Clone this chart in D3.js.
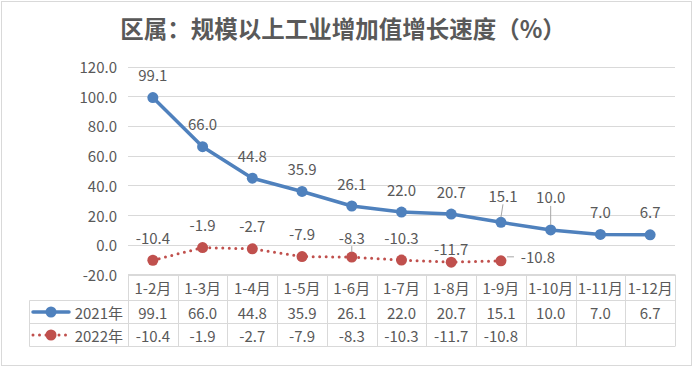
<!DOCTYPE html>
<html>
  <head>
    <meta charset="UTF-8">
    <title>区属：规模以上工业增加值增长速度</title>
    <script src="https://d3js.org/d3.v7.min.js"></script>
  </head>
  <style type="text/css">
    body { margin: 0px; padding: 0px; background: #fff; }
    text { font-family: "Noto Sans CJK SC", "Noto Sans", sans-serif; fill: #595959; }
  </style>
  <body>
    <div id="chart"></div>
    <script>
      const categories = ['1-2月', '1-3月', '1-4月', '1-5月', '1-6月', '1-7月', '1-8月', '1-9月', '1-10月', '1-11月', '1-12月'];
      const values2021 = [99.1, 66.0, 44.8, 35.9, 26.1, 22.0, 20.7, 15.1, 10.0, 7.0, 6.7];
      const values2022 = [-10.4, -1.9, -2.7, -7.9, -8.3, -10.3, -11.7, -10.8];
      const seriesNames = ['2021年', '2022年'];
      const yTicks = [-20, 0, 20, 40, 60, 80, 100, 120];

      const width = 694, height = 368;
      const plotLeft = 128, plotRight = 675;
      const colors = ['#4f81bd', '#c0504d'];
      const fs = 15;

      const svg = d3.select('#chart').append('svg')
        .attr('width', width)
        .attr('height', height);

      // outer frame
      svg.append('rect')
        .attr('x', 1.5).attr('y', 1.5)
        .attr('width', 690).attr('height', 364)
        .attr('fill', 'none').attr('stroke', '#d9d9d9');

      svg.append('text')
        .attr('x', 343).attr('y', 28)
        .attr('text-anchor', 'middle')
        .attr('dominant-baseline', 'central')
        .attr('font-size', 23.5)
        .attr('font-weight', 'bold')
        .text('区属：规模以上工业增加值增长速度（%）');

      const x = d3.scaleBand().domain(categories).range([plotLeft, plotRight]);
      const y = d3.scaleLinear().domain([-20, 120]).range([274.5, 66.5]);

      // gridlines
      svg.append('g').selectAll('line')
        .data(yTicks).enter().append('line')
        .attr('x1', plotLeft).attr('x2', plotRight)
        .attr('y1', d => Math.round(y(d)) + 0.5).attr('y2', d => Math.round(y(d)) + 0.5)
        .attr('stroke', '#d9d9d9');

      // y axis labels
      svg.append('g').selectAll('text')
        .data(yTicks).enter().append('text')
        .attr('x', 117).attr('y', d => y(d))
        .attr('text-anchor', 'end')
        .attr('dominant-baseline', 'central')
        .attr('font-size', fs)
        .text(d => d.toFixed(1));

      // data table
      const rowY = [274.5, 300.5, 323.5, 346.5];
      const legendLeft = 29.5;
      const table = svg.append('g').attr('stroke', '#d9d9d9');
      table.append('line').attr('x1', plotLeft).attr('x2', plotRight).attr('y1', rowY[0]).attr('y2', rowY[0]);
      rowY.slice(1).forEach(yy => {
        table.append('line').attr('x1', legendLeft).attr('x2', plotRight).attr('y1', yy).attr('y2', yy);
      });
      categories.forEach(c => {
        table.append('line').attr('x1', Math.round(x(c)) + 0.5).attr('x2', Math.round(x(c)) + 0.5)
          .attr('y1', rowY[0]).attr('y2', rowY[3]);
      });
      table.append('line').attr('x1', plotRight + 0.5).attr('x2', plotRight + 0.5).attr('y1', rowY[0]).attr('y2', rowY[3]);
      table.append('line').attr('x1', legendLeft).attr('x2', legendLeft).attr('y1', rowY[1]).attr('y2', rowY[3]);

      const cellText = (tx, ty, str) => svg.append('text')
        .attr('x', tx).attr('y', ty)
        .attr('text-anchor', 'middle')
        .attr('dominant-baseline', 'central')
        .attr('font-size', fs)
        .text(str);

      categories.forEach(c => cellText(x(c) + x.bandwidth() / 2, 287.5, c));
      values2021.forEach((v, i) => cellText(x(categories[i]) + x.bandwidth() / 2, 312, v.toFixed(1)));
      values2022.forEach((v, i) => cellText(x(categories[i]) + x.bandwidth() / 2, 335, v.toFixed(1)));

      // legend keys inside the table
      [values2021, values2022].forEach((_, si) => {
        const ly = si === 0 ? 312 : 335;
        const g = svg.append('g');
        g.append('line')
          .attr('x1', 33).attr('x2', 69).attr('y1', ly).attr('y2', ly)
          .attr('stroke', colors[si])
          .attr('stroke-width', si === 0 ? 3.5 : 3)
          .attr('stroke-dasharray', si === 0 ? null : '0 6.5')
          .attr('stroke-linecap', 'round');
        g.append('circle').attr('cx', 51).attr('cy', ly).attr('r', 5.5).attr('fill', colors[si]);
        g.append('text')
          .attr('x', 123).attr('y', ly)
          .attr('text-anchor', 'end')
          .attr('dominant-baseline', 'central')
          .attr('font-size', fs)
          .text(seriesNames[si]);
      });

      const cx = i => x(categories[i]) + x.bandwidth() / 2;
      const line = d3.line().x((d, i) => cx(i)).y(d => y(d));

      // 2021 series
      svg.append('path').datum(values2021)
        .attr('d', line).attr('fill', 'none')
        .attr('stroke', colors[0]).attr('stroke-width', 3.5)
        .attr('stroke-linejoin', 'round');
      svg.append('g').selectAll('circle')
        .data(values2021).enter().append('circle')
        .attr('cx', (d, i) => cx(i)).attr('cy', d => y(d))
        .attr('r', 5.5).attr('fill', colors[0]);

      // 2022 series
      svg.append('path').datum(values2022)
        .attr('d', line).attr('fill', 'none')
        .attr('stroke', colors[1]).attr('stroke-width', 3)
        .attr('stroke-dasharray', '0 6.5')
        .attr('stroke-linecap', 'round');
      svg.append('g').selectAll('circle')
        .data(values2022).enter().append('circle')
        .attr('cx', (d, i) => cx(i)).attr('cy', d => y(d))
        .attr('r', 5.5).attr('fill', colors[1]);

      // data labels: [dx, dy, leader]
      const off2021 = { 7: [2, -27, true], 8: [0, -33, true] };
      const off2022 = { 4: [0, -20, true], 6: [0, -14, false], 7: [37, -4, 'h'] };
      const addLabels = (vals, offs, defDy) => {
        vals.forEach((v, i) => {
          const o = offs[i] || [0, defDy, false];
          const px = cx(i), py = y(v);
          const lx = px + o[0], ly = py + o[1];
          if (o[2] === true) {
            svg.append('line')
              .attr('x1', lx).attr('y1', ly + 9).attr('x2', px).attr('y2', py - 5)
              .attr('stroke', '#a6a6a6').attr('stroke-width', 1);
          } else if (o[2] === 'h') {
            svg.append('line')
              .attr('x1', px + 6).attr('y1', ly).attr('x2', lx - 24).attr('y2', ly)
              .attr('stroke', '#a6a6a6').attr('stroke-width', 1);
          }
          svg.append('text')
            .attr('x', lx).attr('y', ly)
            .attr('text-anchor', 'middle')
            .attr('dominant-baseline', 'central')
            .attr('font-size', fs)
            .text(v.toFixed(1));
        });
      };
      addLabels(values2021, off2021, -23);
      addLabels(values2022, off2022, -23);
    </script>
  </body>
</html>
